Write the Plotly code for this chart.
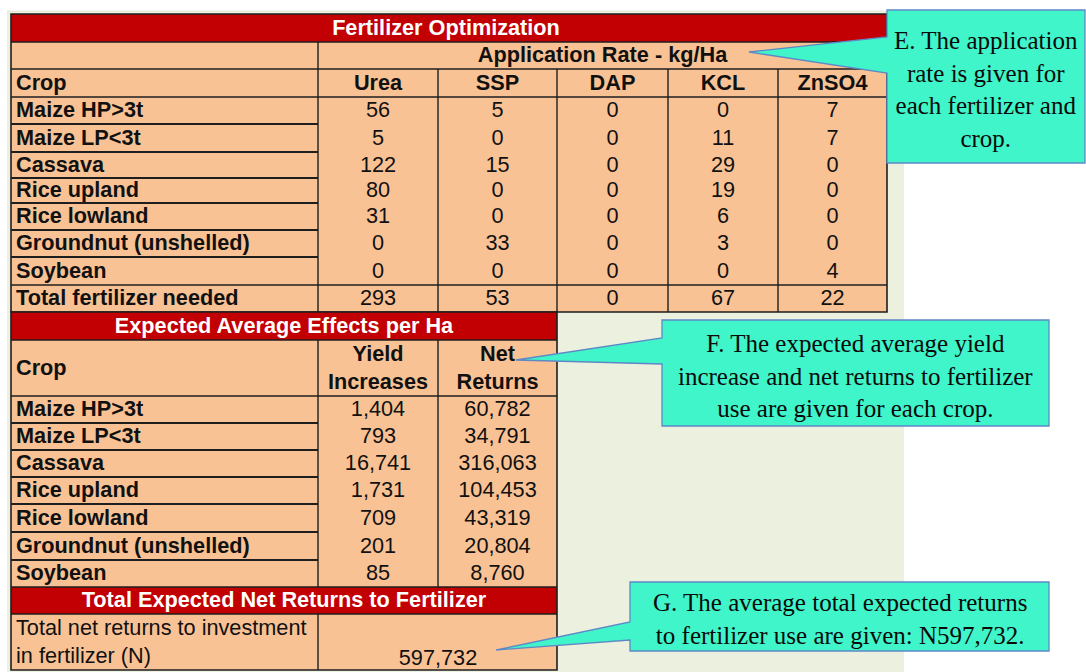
import plotly.graph_objects as go

# ---------------- data ----------------
crops = ["Maize HP>3t", "Maize LP<3t", "Cassava", "Rice upland",
         "Rice lowland", "Groundnut (unshelled)", "Soybean"]
fertilizers = ["Urea", "SSP", "DAP", "KCL", "ZnSO4"]
urea = [56, 5, 122, 80, 31, 0, 0]
ssp = [5, 0, 15, 0, 0, 33, 0]
dap = [0, 0, 0, 0, 0, 0, 0]
kcl = [0, 11, 29, 19, 6, 3, 0]
znso4 = [7, 7, 0, 0, 0, 0, 4]
total_fertilizer = [293, 53, 0, 67, 22]
yield_increases = [1404, 793, 16741, 1731, 709, 201, 85]
net_returns = [60782, 34791, 316063, 104453, 43319, 20804, 8760]
total_net_return = 597732

title1 = "Fertilizer Optimization"
subtitle1 = "Application Rate - kg/Ha"
title2 = "Expected Average Effects per Ha"
title3 = "Total Expected Net Returns to Fertilizer"
total_label = "Total fertilizer needed"
total_net_label = "Total net returns to investment<br>in fertilizer (N)"
note_e = "E. The application<br>rate is given for<br>each fertilizer and<br>crop."
note_f = "F. The expected average yield<br>increase and net returns to fertilizer<br>use are given for each crop."
note_g = "G. The average total expected returns<br>to fertilizer use are given: N597,732."

rates = [urea, ssp, dap, kcl, znso4]

# ---------------- layout geometry ----------------
W, H = 1086, 672
RED = "#C20004"
PEACH = "#F9C295"
PANEL = "#ECF0DE"
LINE = "#1E1E1E"
CALL = "#3FF5C9"
CALL_LINE = "#5E88C6"
SANS = "Liberation Sans, Arial, sans-serif"
SERIF = "Liberation Serif, Times New Roman, serif"
FS = 21.7
DY = 1.5  # small downward nudge for text baseline

c1 = [11, 318, 438, 557, 668, 778, 887]
r1 = [14, 42, 69, 97, 124, 152, 178, 203, 230, 257, 285, 312]
r2 = [312, 340, 396, 423, 450, 477, 504, 532, 560, 587, 614, 670]

shapes = []


def rect(x0, y0, x1, y1, fill, lw=0, lc=LINE):
    shapes.append(dict(type="rect", xref="x", yref="y", x0=x0, y0=y0, x1=x1, y1=y1,
                       fillcolor=fill, line=dict(width=lw, color=lc), layer="below"))


def hline(x0, x1, y, w=1.6, color=LINE):
    shapes.append(dict(type="line", xref="x", yref="y", x0=x0, x1=x1, y0=y, y1=y,
                       line=dict(color=color, width=w), layer="below"))


def vline(x, y0, y1, w=1.4):
    shapes.append(dict(type="line", xref="x", yref="y", x0=x, x1=x, y0=y0, y1=y1,
                       line=dict(color=LINE, width=w), layer="below"))


# background panel
rect(7, 11, 904, 672, PANEL)
hline(7, 904, 11, 0.6, "#D8DACC")

# ---- table 1 ----
rect(c1[0], r1[0], c1[-1], r1[-1], PEACH)
rect(c1[0], r1[0], c1[-1], r1[1], RED)
for y in (r1[1], r1[2], r1[3], r1[-2]):
    hline(c1[0], c1[-1], y)
for y in r1[4:-2]:
    hline(c1[0], c1[1], y, 1.8)
vline(c1[1], r1[1], r1[-1])
for x in c1[2:-1]:
    vline(x, r1[2], r1[-1])
shapes.append(dict(type="rect", xref="x", yref="y", x0=c1[0], y0=r1[0], x1=c1[-1], y1=r1[-1],
                   line=dict(color=LINE, width=1.6), fillcolor="rgba(0,0,0,0)", layer="below"))

# ---- table 2 ----
c2 = c1[:4]
rect(c2[0], r2[0], c2[-1], r2[-1], PEACH)
rect(c2[0], r2[0], c2[-1], r2[1], RED)
rect(c2[0], r2[-3], c2[-1], r2[-2], RED)
for y in (r2[1], r2[2], r2[-3], r2[-2]):
    hline(c2[0], c2[-1], y)
for y in r2[3:-3]:
    hline(c2[0], c2[1], y, 1.8)
vline(c2[1], r2[1], r2[-3])
vline(c2[2], r2[1], r2[-3])
vline(c2[1], r2[-2], r2[-1])
shapes.append(dict(type="rect", xref="x", yref="y", x0=c2[0], y0=r2[0], x1=c2[-1], y1=r2[-1],
                   line=dict(color=LINE, width=1.6), fillcolor="rgba(0,0,0,0)", layer="below"))


# ---- callouts ----
def callout(x0, y0, x1, y1, by0, by1, tx, ty):
    path = (f"M {x0},{y0} L {x1},{y0} L {x1},{y1} L {x0},{y1} L {x0},{by1} "
            f"L {tx},{ty} L {x0},{by0} Z")
    shapes.append(dict(type="path", xref="x", yref="y", path=path, fillcolor=CALL,
                       line=dict(color=CALL_LINE, width=1.3), layer="above"))


callout(887, 10, 1085, 163, 37, 73, 749, 52)
callout(662, 320, 1049, 426, 338, 364, 516, 360)
callout(630, 582, 1049, 651, 622, 640, 496, 650)

fig = go.Figure()


def text_trace(xs, ys, texts, pos="middle center", color="#111111", bold=False, size=FS):
    t = [f"<b>{s}</b>" if bold else s for s in texts]
    fig.add_trace(go.Scatter(x=xs, y=[v + DY for v in ys], text=t, mode="text",
                             textposition=pos,
                             textfont=dict(family=SANS, size=size, color=color),
                             hoverinfo="skip", showlegend=False))


def mid(a, b):
    return (a + b) / 2


# table 1 headers
text_trace([446], [mid(r1[0], r1[1])], [title1], color="white", bold=True)
text_trace([mid(c1[1], c1[-1])], [mid(r1[1], r1[2])], [subtitle1], bold=True)
text_trace([16], [mid(r1[2], r1[3])], ["Crop"], pos="middle right", bold=True)
text_trace([mid(c1[i + 1], c1[i + 2]) for i in range(len(fertilizers))],
           [mid(r1[2], r1[3])] * len(fertilizers), fertilizers, bold=True)
# table 1 rows
row_y1 = [mid(r1[3 + i], r1[4 + i]) for i in range(len(crops))]
text_trace([16] * len(crops), row_y1, crops, pos="middle right", bold=True)
for j, vals in enumerate(rates):
    text_trace([mid(c1[j + 1], c1[j + 2])] * len(vals), row_y1, [str(v) for v in vals])
text_trace([16], [mid(r1[-2], r1[-1])], [total_label], pos="middle right", bold=True)
text_trace([mid(c1[j + 1], c1[j + 2]) for j in range(len(total_fertilizer))],
           [mid(r1[-2], r1[-1])] * len(total_fertilizer), [str(v) for v in total_fertilizer])

# table 2
text_trace([mid(c2[0], c2[-1])], [mid(r2[0], r2[1])], [title2], color="white", bold=True)
text_trace([16], [mid(r2[1], r2[2])], ["Crop"], pos="middle right", bold=True)
text_trace([mid(c2[1], c2[2]), mid(c2[2], c2[3])], [mid(r2[1], r2[2])] * 2,
           ["Yield<br>Increases", "Net<br>Returns"], bold=True)
row_y2 = [mid(r2[2 + i], r2[3 + i]) for i in range(len(crops))]
text_trace([16] * len(crops), row_y2, crops, pos="middle right", bold=True)
text_trace([mid(c2[1], c2[2])] * len(crops), row_y2, [f"{v:,}" for v in yield_increases])
text_trace([mid(c2[2], c2[3])] * len(crops), row_y2, [f"{v:,}" for v in net_returns])
text_trace([mid(c2[0], c2[-1])], [mid(r2[-3], r2[-2])], [title3], color="white", bold=True)
text_trace([16], [mid(r2[-2], r2[-1])], [total_net_label], pos="middle right")
text_trace([c2[2]], [658], [f"{total_net_return:,}"])

annotations = [
    dict(x=986, y=89, text=note_e),
    dict(x=855.5, y=376, text=note_f),
    dict(x=839.5, y=619, text=note_g),
]
for a in annotations:
    a.update(xref="x", yref="y", showarrow=False, align="center",
             font=dict(family=SERIF, size=25, color="#0A0A0A"))

fig.update_layout(
    width=W, height=H, margin=dict(l=0, r=0, t=0, b=0),
    paper_bgcolor="white", plot_bgcolor="white",
    xaxis=dict(range=[0, W], visible=False, fixedrange=True),
    yaxis=dict(range=[H, 0], visible=False, fixedrange=True),
    shapes=shapes, annotations=annotations, showlegend=False,
)

fig.write_html("out.html", config={"displayModeBar": False},
               post_script="document.body.style.margin='0';")
